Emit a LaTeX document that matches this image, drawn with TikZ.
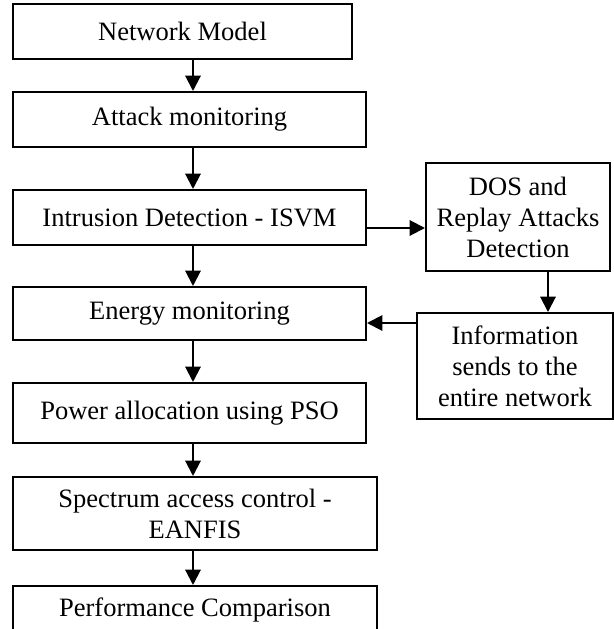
\documentclass[tikz,border=0pt]{standalone}
\usepackage{fontspec}
\setmainfont{Liberation Serif}
\usetikzlibrary{arrows.meta}

\tikzset{
  blk/.style={draw, line width=1.5pt, inner sep=0pt, align=center,
              font=\fontsize{19.9}{23.25}\selectfont},
  arr/.style={line width=1.5pt, -{Triangle[width=11.5pt,length=11.5pt]}}
}

\begin{document}
\begin{tikzpicture}[x=0.75pt, y=-0.75pt]
  \useasboundingbox (0,0) rectangle (614,629);
  \clip (0,0) rectangle (614,629);

  % main flow (left column)
  \node[blk, minimum width=254.25pt, minimum height=41.25pt] (net)    at (182.5,31.5) {Network Model};
  \node[blk, minimum width=264.75pt, minimum height=41.25pt] (att)    at (189.5,119.5) {Attack monitoring};
  \node[blk, minimum width=264.75pt, minimum height=41.25pt] (isvm)   at (189.5,217.5) {Intrusion Detection - ISVM};
  \node[blk, minimum width=264.75pt, minimum height=39.75pt] (energy) at (189.5,313.5) {Energy monitoring};
  \node[blk, minimum width=264.75pt, minimum height=45pt]    (power)  at (189.5,413) {Power allocation using PSO};
  \node[blk, minimum width=273pt, minimum height=54.75pt] (spec) at (195,513.5)
        {Spectrum access control -\\EANFIS};
  \node[blk, minimum width=273pt, minimum height=35.25pt]    (perf)   at (195,609.5) {Performance Comparison};

  % side branch (right column)
  \node[blk, minimum width=138pt, minimum height=81pt] (dos) at (518,217)
        {DOS and\\Replay Attacks\\Detection};
  \node[blk, minimum width=147pt, minimum height=79.5pt] (info) at (515,366)
        {Information\\sends to the\\entire network};

  % guide coordinates for connector positions
  \coordinate (col) at (193,0);
  \coordinate (rowA) at (0,228);
  \coordinate (rowB) at (0,323);
  \coordinate (colR) at (548,0);

  % vertical connectors of the main flow
  \draw[arr] (net.south -| col)    -- (att.north -| col);
  \draw[arr] (att.south -| col)    -- (isvm.north -| col);
  \draw[arr] (isvm.south -| col)   -- (energy.north -| col);
  \draw[arr] (energy.south -| col) -- (power.north -| col);
  \draw[arr] (power.south -| col)  -- (spec.north -| col);
  \draw[arr] (spec.south -| col)   -- (perf.north -| col);

  % side branch connectors
  \draw[arr] (isvm.east |- rowA) -- (dos.west |- rowA);
  \draw[arr] (dos.south -| colR) -- (info.north -| colR);
  \draw[arr] (info.west |- rowB) -- (energy.east |- rowB);
\end{tikzpicture}
\end{document}
